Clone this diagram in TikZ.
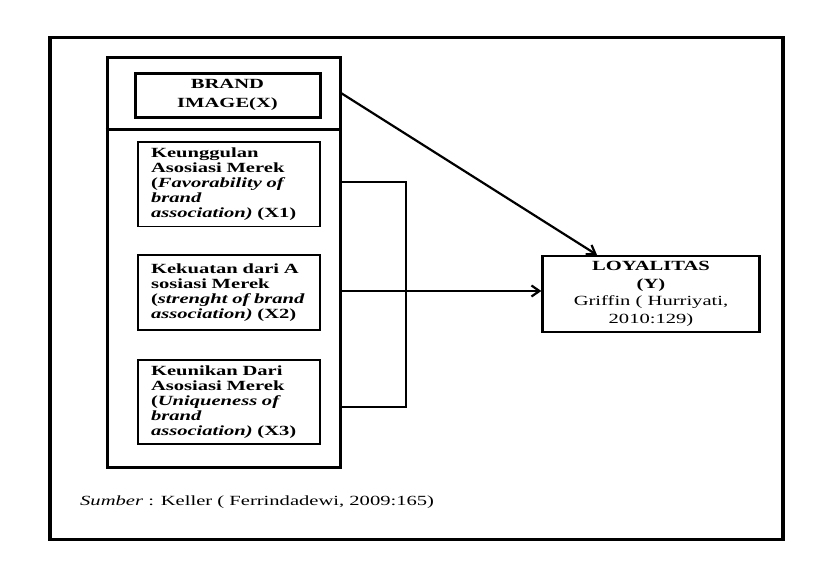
\documentclass[tikz,border=0pt]{standalone}
\usepackage{fontspec}
\setmainfont{Liberation Serif}[FakeStretch=1.47]
\usetikzlibrary{arrows.meta}
\begin{document}
\begin{tikzpicture}[x=1pt,y=-1pt,
  heavy/.style={draw, line width=3pt, inner sep=0pt},
  itembox/.style={draw, line width=1.5pt, minimum width=182pt, text width=156pt,
    inner xsep=13pt, inner ysep=0pt, align=left,
    font=\fontsize{14}{15}\selectfont\bfseries},
  link/.style={line width=2.2pt},
  arrowlink/.style={line width=2.2pt, -{Straight Barb[length=8pt,width=11pt]}}]
\useasboundingbox (0,0) rectangle (823,576);
% outer frame
\node[heavy, line width=3.8pt, minimum width=733pt, minimum height=502pt] (frame) at (416.5,288.5) {};
% big box
\node[heavy, minimum width=233pt, minimum height=410pt] (big) at (223.5,262) {};
\coordinate (dv) at (0,129.5);
\draw[line width=3pt] (big.west |- dv) -- (big.east |- dv);
% brand image
\node[heavy, minimum width=185pt, minimum height=44pt, align=center,
  font=\fontsize{14}{18.5}\selectfont\bfseries] (brand) at (227.5,95) {BRAND\\IMAGE(X)};
% items
\node[itembox, minimum height=84.5pt] (k1) at (229,184)
  {Keunggulan\\Asosiasi Merek\\(\textit{Favorability of}\\\textit{brand}\\\mbox{\textit{association)} (X1)}};
\node[itembox, minimum height=75pt] (k2) at (229,292.5)
  {\mbox{Kekuatan dari A}\\sosiasi Merek\\\mbox{(\textit{strenght of brand}}\\\mbox{\textit{association)} (X2)}};
\node[itembox, minimum height=84pt] (k3) at (229,402)
  {\mbox{Keunikan Dari}\\Asosiasi Merek\\(\textit{Uniqueness of}\\\textit{brand}\\\mbox{\textit{association)} (X3)}};
% loyalitas
\node[draw, line width=2.2pt, minimum width=217pt, minimum height=76pt, inner sep=0pt,
  align=center, font=\fontsize{14}{17.5}\selectfont] (loy) at (651,294)
  {\textbf{LOYALITAS}\\\textbf{(Y)}\\Griffin ( Hurriyati,\\2010:129)};
% source
\node[anchor=west, inner sep=0pt, font=\fontsize{14}{17}\selectfont] (src) at (80,502)
  {\textit{Sumber} : Keller ( Ferrindadewi, 2009:165)};
% connectors
\coordinate (s1) at (340,182);
\coordinate (s2) at (340,291);
\coordinate (s3) at (340,407);
\coordinate (j1) at (406,182);
\coordinate (j3) at (406,407);
\draw[link] (s1) -- (j1) -- (j3) -- (s3);
\draw[arrowlink] (s2) -- (loy.west |- s2);
\coordinate (d0) at (341,93);
\coordinate (d1) at (597,0);
\draw[arrowlink] (d0) -- (loy.north -| d1);
\end{tikzpicture}
\end{document}
